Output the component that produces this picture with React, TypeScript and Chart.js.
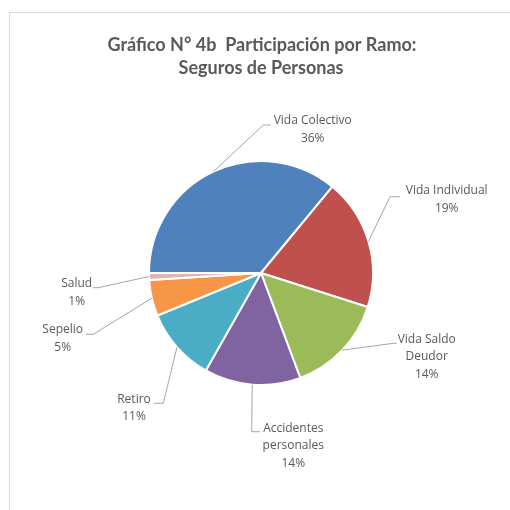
import React, { useEffect, useRef } from "react";
import { Chart, registerables } from "chart.js";

Chart.register(...registerables);

const titleLines = ["Gráfico N° 4b  Participación por Ramo:", "Seguros de Personas"];
const categories = [
  "Vida Colectivo",
  "Vida Individual",
  "Vida Saldo Deudor",
  "Accidentes personales",
  "Retiro",
  "Sepelio",
  "Salud",
];
const categoryLines = [
  ["Vida Colectivo"],
  ["Vida Individual"],
  ["Vida Saldo", "Deudor"],
  ["Accidentes", "personales"],
  ["Retiro"],
  ["Sepelio"],
  ["Salud"],
];
const shares = [36.0, 18.9, 14.4, 13.9, 10.6, 5.2, 1.0];
const colors = ["#4f81bd", "#c0504d", "#9bbb59", "#8064a2", "#4bacc6", "#f79646", "#deb4ba"];

// label placement relative to pie centre (px at radius 112): elbow, end of leader, text centre x, first line y
const labelLayout = [
  { ex: 2.3, ey: -148, lx: 9.7, tx: 51.7, ty: -152.3 },
  { ex: 129, ey: -76.3, lx: 139, tx: 185.7, ty: -82.3 },
  { ex: 132.3, ey: 70.3, lx: 135.7, tx: 165.7, ty: 66.3 },
  { ex: -9.3, ey: 158.7, lx: -1, tx: 32.3, ty: 155.3 },
  { ex: -97.7, ey: 130.3, lx: -107, tx: -127, ty: 126.3 },
  { ex: -167.7, ey: 61.3, lx: -175, tx: -198.3, ty: 57 },
  { ex: -162.7, ey: 14.7, lx: -167.7, tx: -184.3, ty: 10.7 },
];

const labelPlugin = {
  id: "excelLabels",
  afterDatasetsDraw(chart: any) {
    const meta = chart.getDatasetMeta(0);
    const ctx = chart.ctx as CanvasRenderingContext2D;
    const data = chart.data.datasets[0].data as number[];
    const total = data.reduce((a, b) => a + b, 0);
    ctx.save();
    meta.data.forEach((arc: any, i: number) => {
      const p = arc.getProps(["x", "y", "startAngle", "endAngle", "outerRadius"], true);
      const mid = (p.startAngle + p.endAngle) / 2;
      const k = p.outerRadius / 112;
      const ax = p.x + Math.cos(mid) * p.outerRadius;
      const ay = p.y + Math.sin(mid) * p.outerRadius;
      const L = labelLayout[i];
      ctx.strokeStyle = "#a6a6a6";
      ctx.lineWidth = 1;
      ctx.beginPath();
      ctx.moveTo(ax, ay);
      ctx.lineTo(p.x + L.ex * k, p.y + L.ey * k);
      ctx.lineTo(p.x + L.lx * k, p.y + L.ey * k);
      ctx.stroke();
      const lines = [...categoryLines[i], Math.round((data[i] / total) * 100) + "%"];
      ctx.fillStyle = "#595959";
      ctx.font = "12px 'Open Sans'";
      ctx.textAlign = "center";
      ctx.textBaseline = "middle";
      lines.forEach((t, j) => {
        ctx.fillText(t, p.x + L.tx * k, p.y + L.ty * k + j * 17.5);
      });
    });
    // title
    const cx = meta.data[0].x;
    ctx.fillStyle = "#595959";
    ctx.font = "bold 18px Lato";
    ctx.textAlign = "center";
    ctx.textBaseline = "middle";
    ctx.fillText(titleLines[0], cx + 1, 45);
    ctx.fillText(titleLines[1], cx, 68.5);
    ctx.restore();
  },
};

export default function App() {
  const ref = useRef<HTMLCanvasElement>(null);
  useEffect(() => {
    if (!ref.current) return;
    const chart = new Chart(ref.current, {
      type: "pie",
      data: {
        labels: categories,
        datasets: [
          {
            data: shares,
            backgroundColor: colors,
            borderColor: "#ffffff",
            borderWidth: 2,
          },
        ],
      },
      options: {
        responsive: false,
        maintainAspectRatio: false,
        animation: false,
        events: [],
        rotation: -90,
        layout: { padding: { left: 148, right: 136, top: 160, bottom: 124 } },
        plugins: {
          legend: { display: false },
          title: { display: false },
          tooltip: { enabled: false },
        },
      },
      plugins: [labelPlugin],
    });
    return () => chart.destroy();
  }, []);
  return (
    <div style={{ position: "absolute", left: 0, top: 0, width: 510, height: 510, background: "#fff" }}>
      <div
        style={{
          position: "absolute",
          left: 9,
          top: 12,
          right: 0,
          bottom: 0,
          borderTop: "1px solid #d9d9d9",
          borderLeft: "1px solid #d9d9d9",
        }}
      />
      <canvas ref={ref} width={510} height={510} style={{ position: "absolute", left: 0, top: 0 }} />
    </div>
  );
}
